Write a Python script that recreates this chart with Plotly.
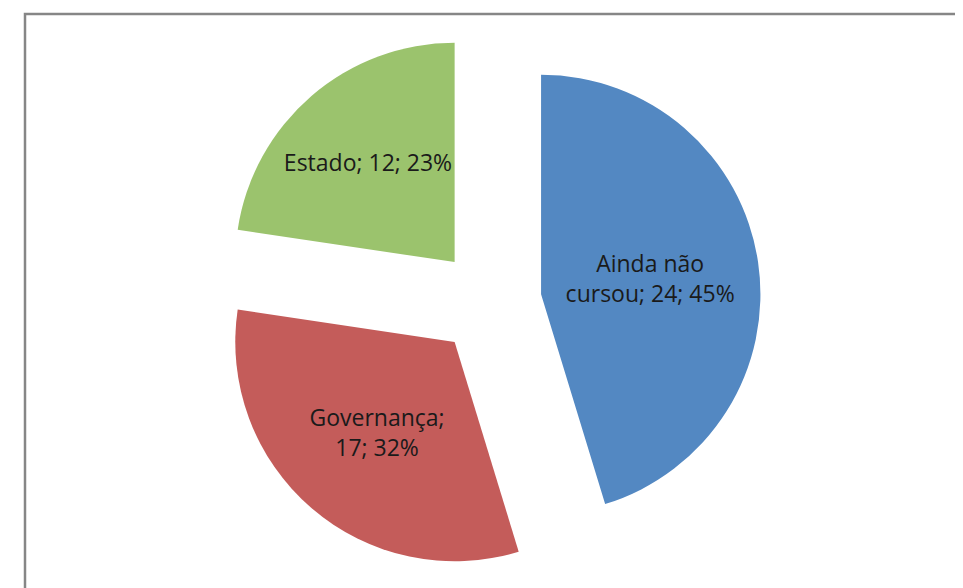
import plotly.graph_objects as go

labels = ["Ainda não cursou", "Governança", "Estado"]
values = [24, 17, 12]
colors = ["#5388C2", "#C45C5A", "#9BC36D"]

W, H = 963, 588
OFF = 8  # default page body margin
cx, cy = 489 - OFF, 302 - OFF
r_tot = 272

total = sum(values)
pcts = [round(100 * v / total) for v in values]
texts = [
    f"Ainda não<br>cursou; {values[0]}; {pcts[0]}%",
    f"Governança;<br>{values[1]}; {pcts[1]}%",
    f"Estado; {values[2]}; {pcts[2]}%",
]

fig = go.Figure(go.Pie(
    labels=labels,
    values=values,
    text=texts,
    textinfo="text",
    textposition="inside",
    insidetextorientation="horizontal",
    sort=False,
    direction="clockwise",
    rotation=0,
    pull=[0.24, 0.24, 0.24],
    marker=dict(colors=colors, line=dict(width=0)),
    textfont=dict(family="Open Sans, sans-serif", size=23, color="#1a1a1a"),
    showlegend=False,
    hoverinfo="label+value+percent",
    domain=dict(x=[(cx - r_tot) / W, (cx + r_tot) / W],
                y=[1 - (cy + r_tot) / H, 1 - (cy - r_tot) / H]),
))

fig.add_shape(type="rect", xref="paper", yref="paper",
              x0=(25 - OFF) / W, x1=1.05, y0=-0.05, y1=1 - (14 - OFF) / H,
              line=dict(color="#868686", width=2.5), fillcolor="rgba(0,0,0,0)")

fig.update_layout(
    width=W, height=H,
    margin=dict(l=0, r=0, t=0, b=0),
    paper_bgcolor="white",
    plot_bgcolor="white",
    uniformtext=dict(minsize=23, mode="show"),
)

fig.write_html("out.html")
